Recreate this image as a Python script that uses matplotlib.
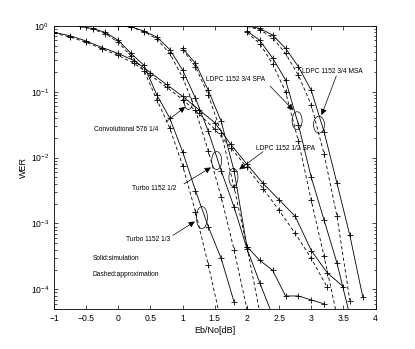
"""
WER curves: simulation (solid) vs approximation (dashed).
"""

import numpy as np
import matplotlib
matplotlib.use('Agg')
import matplotlib.pyplot as plt
from matplotlib.patches import Ellipse
import matplotlib.transforms as mtransforms

# log10(WER)
conv_x = [-1, -0.75, -0.5, -0.25, 0, 0.25, 0.5, 0.75, 1.0, 1.25, 1.5, 1.75, 2.0, 2.25, 2.5, 2.75, 3.0, 3.25, 3.5]
conv_sim = [-0.10, -0.15, -0.23, -0.33, -0.42, -0.53, -0.71, -0.89, -1.07, -1.27, -1.47, -1.80, -2.10, -2.39, -2.64, -2.89, -3.41, -3.75, -3.96]
conv_apx_x = conv_x[:-1]
conv_apx = [-0.11, -0.17, -0.25, -0.35, -0.45, -0.57, -0.75, -0.93, -1.12, -1.33, -1.57, -1.85, -2.15, -2.47, -2.80, -3.15, -3.53, -3.97]

t13_x = [-0.6, -0.4, -0.2, 0, 0.2, 0.4, 0.6, 0.8, 1.0, 1.2, 1.4, 1.6, 1.8]
t13_sim = [-0.01, -0.04, -0.10, -0.22, -0.42, -0.60, -1.05, -1.40, -1.91, -2.50, -3.05, -3.53, -4.19]
t13_apx_x = t13_x[:-1]
t13_apx = [-0.01, -0.05, -0.12, -0.25, -0.46, -0.68, -1.12, -1.55, -2.12, -2.82, -3.63, -4.50]

t12_x = [0, 0.2, 0.4, 0.6, 0.8, 1.0, 1.2, 1.4, 1.6, 1.8, 2.0, 2.2, 2.4]
t12_sim = [0, -0.015, -0.08, -0.17, -0.36, -0.67, -1.10, -1.60, -2.20, -2.75, -3.38, -3.90, -4.40]
t12_apx_x = t12_x[:11]
t12_apx = [0, -0.02, -0.09, -0.20, -0.42, -0.78, -1.28, -1.90, -2.60, -3.40, -4.30]

l12_x = [1.0, 1.2, 1.4, 1.6, 1.8, 2.0, 2.2, 2.4, 2.6, 2.8, 3.0, 3.2]
l12_sim = [-0.34, -0.57, -0.98, -1.45, -2.20, -3.35, -3.56, -3.71, -4.10, -4.10, -4.16, -4.22]
l12_apx_x = l12_x[:7]
l12_apx = [-0.36, -0.62, -1.05, -1.62, -2.45, -3.35, -4.35]

l34s_x = [2.0, 2.2, 2.4, 2.6, 2.8, 3.0, 3.2, 3.4, 3.6]
l34s_sim = [-0.08, -0.22, -0.49, -0.82, -1.50, -2.30, -2.95, -3.60, -4.40]
l34s_apx_x = l34s_x[:8]
l34s_apx = [-0.10, -0.27, -0.58, -1.00, -1.75, -2.65, -3.50, -4.40]

l34m_x = [2.0, 2.2, 2.4, 2.6, 2.8, 3.0, 3.2, 3.4, 3.6, 3.8]
l34m_sim = [0, -0.04, -0.14, -0.34, -0.62, -0.98, -1.61, -2.39, -3.18, -4.11]
l34m_apx_x = l34m_x[:9]
l34m_apx = [-0.01, -0.06, -0.18, -0.42, -0.75, -1.20, -1.95, -2.89, -4.17]

# label text, text position, arrow tail, arrow head, ellipse centre (x, log10 y)
labels = ['Convolutional 576 1/4', 'Turbo 1152 1/2', 'Turbo 1152 1/3',
          'LDPC 1152 1/2 SPA', 'LDPC 1152 3/4 SPA', 'LDPC 1152 3/4 MSA']
label_pos = [(-0.38, -1.57), (0.22, -2.47), (0.115, -3.25), (2.14, -1.86), (1.37, -0.82), (2.85, -0.69)]
arrow_tail = [(0.74, -1.46), (1.02, -2.40), (0.85, -3.18), (2.25, -1.91), (2.36, -0.915), (3.39, -0.76)]
arrow_head = [(1.04, -1.23), (1.44, -2.15), (1.19, -2.97), (1.88, -2.18), (2.72, -1.28), (3.16, -1.355)]
ellipse_c = [(1.09, -1.17), (1.53, -2.045), (1.30, -2.91), (1.79, -2.30), (2.78, -1.44), (3.12, -1.50)]
ellipse_wh = [(8, 13), (10, 18), (11, 22), (9, 18), (10, 18), (11, 17)]   # pixels

xticks = [-1, -0.5, 0, 0.5, 1, 1.5, 2, 2.5, 3, 3.5, 4]
xticklabels = ['\u22121', '\u22120.5', '0', '0.5', '1', '1.5', '2', '2.5', '3', '3.5', '4']


def main():
    plt.rcParams['font.family'] = ['Liberation Sans', 'DejaVu Sans']
    plt.rcParams['mathtext.fontset'] = 'custom'
    plt.rcParams['mathtext.rm'] = 'Liberation Sans'
    plt.rcParams['mathtext.it'] = 'Liberation Sans:italic'

    fig = plt.figure(figsize=(4.15, 3.49), dpi=100)
    ax = fig.add_axes([0.130, 0.114, 0.775, 0.812])

    pairs = [(conv_x, conv_sim, conv_apx_x, conv_apx),
             (t13_x, t13_sim, t13_apx_x, t13_apx),
             (t12_x, t12_sim, t12_apx_x, t12_apx),
             (l12_x, l12_sim, l12_apx_x, l12_apx),
             (l34s_x, l34s_sim, l34s_apx_x, l34s_apx),
             (l34m_x, l34m_sim, l34m_apx_x, l34m_apx)]
    style = dict(color='k', lw=0.6, marker='+', ms=5, mew=0.6)
    for xs, ys, xa, ya in pairs:
        ax.semilogy(xs, 10 ** np.array(ys), ls='-', **style)
        ax.semilogy(xa, 10 ** np.array(ya), ls='--', dashes=(4, 3), **style)

    ax.set_xlim(-1, 4)
    ax.set_ylim(5e-5, 1)
    ax.set_xticks(xticks)
    ax.set_xticklabels(xticklabels)
    ax.tick_params(direction='in', top=True, right=True, labelsize=6.2, length=3, width=0.5)
    ax.tick_params(which='minor', direction='in', top=True, right=True, length=1.8, width=0.5)
    for s in ax.spines.values():
        s.set_linewidth(0.6)
    ax.set_xlabel('Eb/No[dB]', fontsize=6.5, labelpad=2)
    ax.set_ylabel('WER', fontsize=6.5, labelpad=2)

    for i, txt in enumerate(labels):
        tx, ty = label_pos[i]
        ax.text(tx, 10 ** ty, txt, fontsize=4.8, va='center', ha='left')
        (ax0, ay0), (ax1, ay1) = arrow_tail[i], arrow_head[i]
        ax.annotate('', xy=(ax1, 10 ** ay1), xytext=(ax0, 10 ** ay0),
                    arrowprops=dict(arrowstyle='-|>', color='k', lw=0.5, mutation_scale=9,
                                    shrinkA=0, shrinkB=0))
        cx, cy = ellipse_c[i]
        w, h = ellipse_wh[i]
        tr = fig.dpi_scale_trans + mtransforms.ScaledTranslation(cx, 10 ** cy, ax.transData)
        ax.add_patch(Ellipse((0, 0), w / 100, h / 100, transform=tr, fill=False, lw=0.5, ec='k'))

    ax.text(-0.40, 10 ** -3.53, 'Solid:simulation', fontsize=4.8, va='center')
    ax.text(-0.40, 10 ** -3.77, 'Dashed:approximation', fontsize=4.8, va='center')

    fig.savefig('out.png', dpi=100)


if __name__ == '__main__':
    main()
